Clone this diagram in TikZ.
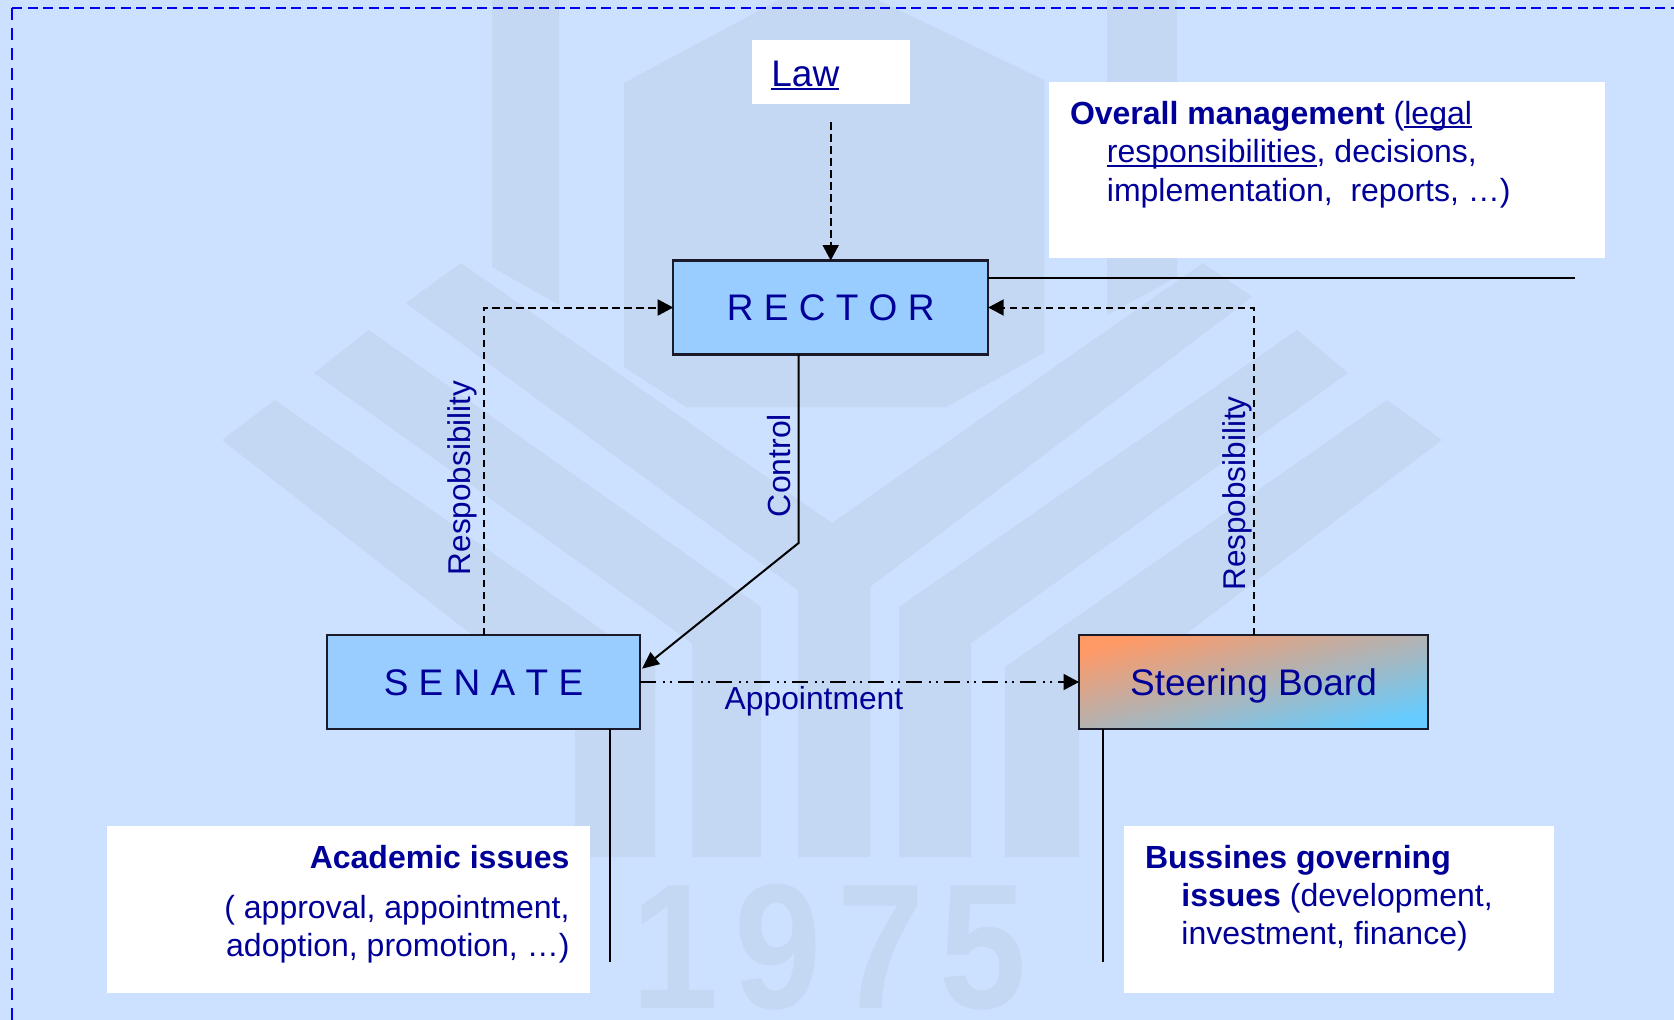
\documentclass[tikz,border=0pt]{standalone}
\usepackage{fontspec}
\setmainfont{Liberation Sans}
\usetikzlibrary{arrows.meta}
\definecolor{bgblue}{HTML}{CCE0FF}
\definecolor{wmblue}{HTML}{C4D7F3}
\definecolor{txtblue}{HTML}{000099}
\definecolor{boxblue}{HTML}{99CCFF}
\definecolor{bordblue}{HTML}{0000F0}
\definecolor{gradorange}{HTML}{FF9966}
\definecolor{gradmid}{HTML}{BCB2C4}
\definecolor{gradsky}{HTML}{66CCFF}
\definecolor{edgegrey}{HTML}{1A1A2A}
\newlength\ulw
\newcommand\ulin[2][3.8pt]{\settowidth\ulw{#2}\rlap{\rule[-#1]{\ulw}{2pt}}#2}
\newcommand\bodyfont{\fontsize{32}{38.4}\selectfont}
\tikzset{
  x=1pt,y=-1pt,
  wmshape/.style={fill=wmblue,draw=none},
  bdash/.style={draw=bordblue,line width=1.6pt},
  blackbox/.style={rectangle,draw=edgegrey,line width=2.4pt,inner sep=0pt,outer sep=0pt,text=txtblue},
  whitebox/.style={rectangle,fill=white,inner sep=0pt,outer sep=0pt},
  label text/.style={text=txtblue,inner sep=0pt,outer sep=0pt},
  conn/.style={draw=black,line width=2pt},
  dasharrow/.style={conn,dash pattern=on 7.5pt off 4.5pt,-{Triangle[length=15.5pt,width=16pt]}},
}
\begin{document}
\begin{tikzpicture}
\useasboundingbox (0,0) rectangle (1674,1020);
\fill[bgblue] (0,0) rectangle (1674,1020);
% watermark
\fill[wmshape] (624,83) -- (779,0) -- (878,0) -- (1044,80) -- (1044,353) -- (946,407) -- (686,407) -- (624,367) -- cycle;
\fill[wmshape] (492,0) -- (559,0) -- (559,305) -- (492,267) -- cycle;
\fill[wmshape] (1107,0) -- (1177,0) -- (1177,277) -- (1107,315) -- cycle;
\fill[wmshape] (461,263) -- (832,523) -- (1203,263) -- (1252,297) -- (870,587) -- (870,857) -- (798,857) -- (798,590) -- (406,303) -- cycle;
\fill[wmshape] (369,330) -- (761,607) -- (761,857) -- (692,857) -- (692,643) -- (314,373) -- cycle;
\fill[wmshape] (1297,330) -- (899,607) -- (899,857) -- (971,857) -- (971,643) -- (1348,373) -- cycle;
\fill[wmshape] (275,400) -- (655,667) -- (655,857) -- (575,857) -- (575,715) -- (222,440) -- cycle;
\fill[wmshape] (1387,400) -- (1005,667) -- (1005,857) -- (1079,857) -- (1079,715) -- (1442,440) -- cycle;
\node[anchor=base west,inner sep=0pt,text=wmblue] (wmyear) at (631,1008) {\scalebox{.88}[1]{\fontsize{178}{178}\selectfont\bfseries 1\kern18pt 9\kern18pt 7\kern18pt 5}};
% page border
\coordinate (bordTL) at (12,8);
\coordinate (bordTR) at (1674,8);
\coordinate (bordBL) at (12,1020);
\draw[bdash,dash pattern=on 10pt off 5.5pt] (bordTL) -- (bordTR);
\draw[bdash,dash pattern=on 12pt off 8pt] (bordTL) -- (bordBL);
% white boxes
\node[whitebox,minimum width=158pt,minimum height=64pt] (lawbox) at (831,72) {};
\node[whitebox,minimum width=556pt,minimum height=176pt] (overallbox) at (1327,170) {};
\node[whitebox,minimum width=483pt,minimum height=167pt] (academicbox) at (348.5,909.5) {};
\node[whitebox,minimum width=430pt,minimum height=167pt] (businessbox) at (1339,909.5) {};
% main boxes
\node[blackbox,fill=boxblue,minimum width=315pt,minimum height=94pt,text height=26pt,text depth=0pt] (rector) at (830.7,307.5) {\fontsize{37}{40}\selectfont R E C T O R};
\node[blackbox,fill=boxblue,minimum width=313pt,minimum height=94pt,text height=26pt,text depth=0pt] (senate) at (483.5,682) {\fontsize{37}{40}\selectfont S E N A T E};
\node[blackbox,top color=gradorange,middle color=gradmid,bottom color=gradsky,shading angle=15,minimum width=349pt,minimum height=94pt,text height=26pt,text depth=0pt] (steering) at (1253.5,682) {\fontsize{37}{40}\selectfont Steering Board};
% box texts
\node[label text,anchor=base west] (lawtext) at (771.4,86) {\fontsize{37}{40}\selectfont\ulin{Law}};
\node[label text,anchor=north west,align=left,font=\bodyfont] (overalltext) at (1070,101.2) {\textbf{Overall management} (\ulin{legal}\\\hspace*{36.9pt}\ulin{responsibilities}, decisions,\\\hspace*{36.9pt}implementation,\ \ reports, …)};
\node[label text,anchor=north east,align=right,font=\bodyfont] (academictext) at (569.5,845) {\textbf{Academic issues}\\[11.5pt]( approval, appointment,\\adoption, promotion, …)};
\node[label text,anchor=north west,align=left,font=\bodyfont] (businesstext) at (1145,845) {\textbf{Bussines governing}\\\hspace*{36.4pt}\textbf{issues} (development,\\\hspace*{36.4pt}investment, finance)};
% connectors
\coordinate (lawstart) at (830.7,122);
\draw[dasharrow] (lawstart) -- (rector.north);
\draw[dasharrow] (senate.north) |- (rector.west);
\draw[dasharrow] (steering.north) |- (rector.east);
\coordinate (rectorlineend) at (1575,278);
\draw[conn] (rectorlineend -| rector.east) -- (rectorlineend);
\coordinate (ctlbend) at (798.6,543);
\coordinate (ctltip) at (642,668.7);
\draw[conn,-{Triangle[length=17pt,width=15pt]}] (ctlbend |- rector.south) -- (ctlbend) -- (ctltip);
\draw[conn,dash pattern=on 16pt off 7pt on 2pt off 5pt on 2pt off 6pt,-{Triangle[length=15.5pt,width=16pt]}] (senate.east) -- (steering.west);
\coordinate (senatedown) at (610,962);
\coordinate (steeringdown) at (1102.8,962);
\draw[conn] (senatedown |- senate.south) -- (senatedown);
\draw[conn] (steeringdown |- steering.south) -- (steeringdown);
% connector labels
\node[label text,anchor=base,rotate=90] (resp1) at (470.5,478) {\fontsize{31.5}{36}\selectfont Respobsibility};
\node[label text,anchor=base,rotate=90] (resp2) at (1245.5,493.5) {\fontsize{31.5}{36}\selectfont Respobsibility};
\node[label text,anchor=base,rotate=90] (ctllabel) at (790,465.5) {\fontsize{32}{36}\selectfont Control};
\node[label text,anchor=base] (applabel) at (814,709) {\fontsize{31.8}{36}\selectfont Appointment};
\end{tikzpicture}
\end{document}
